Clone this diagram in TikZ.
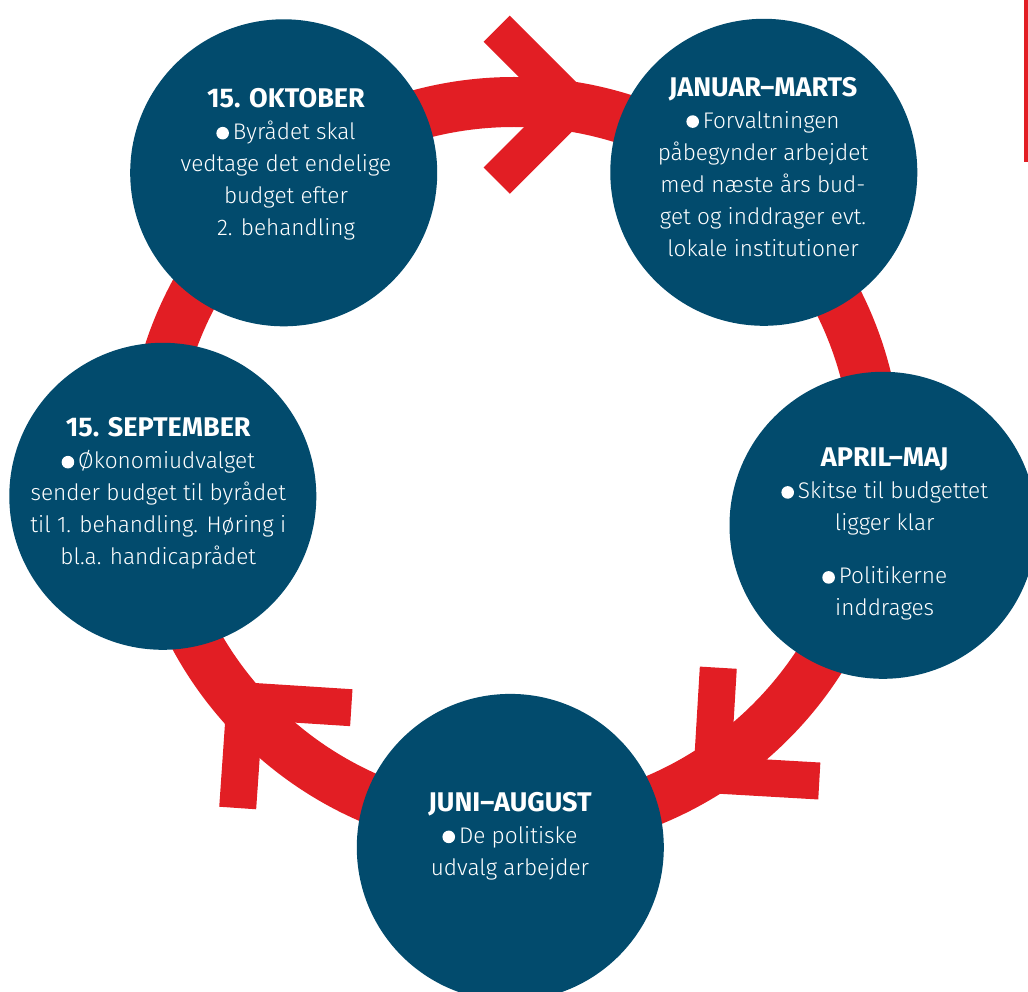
\documentclass[tikz,border=0pt]{standalone}
\usepackage{fontspec}
\newfontfamily\bodyfont{Fira Sans Light}
\newfontfamily\headfont{Fira Sans}
\definecolor{ringred}{RGB}{226,30,36}
\definecolor{discblue}{RGB}{2,75,109}
\newcommand\bul{\tikz[baseline=0pt]\fill[white] (0pt,6.5pt) circle (6.3pt);\hspace{4pt}}
\newcommand\hd[1]{{\headfont\bfseries\fontsize{27}{32}\selectfont #1}}
\begin{document}
\begin{tikzpicture}[x=1pt,y=-1pt,
  disc/.style={circle, fill=discblue, minimum size=307pt, inner sep=0pt},
  txt/.style={anchor=north, align=center, text=white, inner sep=0pt, font=\bodyfont\fontsize{22.6}{32}\selectfont},
  band/.style={draw=ringred, line width=50pt},
  chev/.style={draw=ringred, line width=37pt, line join=miter, line cap=butt}]
\useasboundingbox (0,0) rectangle (1028,992);
\clip (0,0) rectangle (1028,992);
% ring
\coordinate (ringc) at (514,465);
\draw[band] (ringc) circle (363pt);
% chevrons
\coordinate (c1a) at (496.7,28.7);
\coordinate (c1t) at (572.7,104.7);
\coordinate (c1b) at (496.7,180.7);
\draw[chev] (c1a) -- (c1t) -- (c1b);
\coordinate (c2a) at (718.3,667.7);
\coordinate (c2t) at (711.9,774.8);
\coordinate (c2b) at (819.3,781);
\draw[chev] (c2a) -- (c2t) -- (c2b);
\coordinate (c3a) at (351.3,707.7);
\coordinate (c3t) at (245.1,700.9);
\coordinate (c3b) at (237.7,808);
\draw[chev] (c3a) -- (c3t) -- (c3b);
% side bar
\fill[ringred] (1024,0) rectangle (1028,162);
% discs
\node[disc] (okt) at (283.7,172.8) {};
\node[disc] (jan) at (763.8,172.3) {};
\node[disc] (apr) at (883,525.3) {};
\node[disc] (jun) at (510.3,847.4) {};
\node[disc] (sep) at (162.8,496.3) {};
% texts
\node[txt] (oktt) at (286,88.3) {\hd{15. OKTOBER}\\\bul Byrådet skal\\vedtage det endelige\\budget efter\\2. behandling};
\node[txt] (jant) at (763,76.7) {\hd{JANUAR–MARTS}\\\bul Forvaltningen\\påbegynder arbejdet\\med næste års bud-\\get og inddrager evt.\\lokale institutioner};
\node[txt] (aprt) at (884.7,448) {\hd{APRIL–MAJ}\\\bul Skitse til budgettet\\ligger klar\\[21pt]\bul Politikerne\\inddrages};
\node[txt] (junt) at (510,792) {\hd{JUNI–AUGUST}\\\bul De politiske\\udvalg arbejder};
\node[txt] (sept) at (158.3,417.3) {\hd{15. SEPTEMBER}\\\bul Økonomiudvalget\\sender budget til byrådet\\til 1. behandling. Høring i\\bl.a. handicaprådet};
\end{tikzpicture}
\end{document}
